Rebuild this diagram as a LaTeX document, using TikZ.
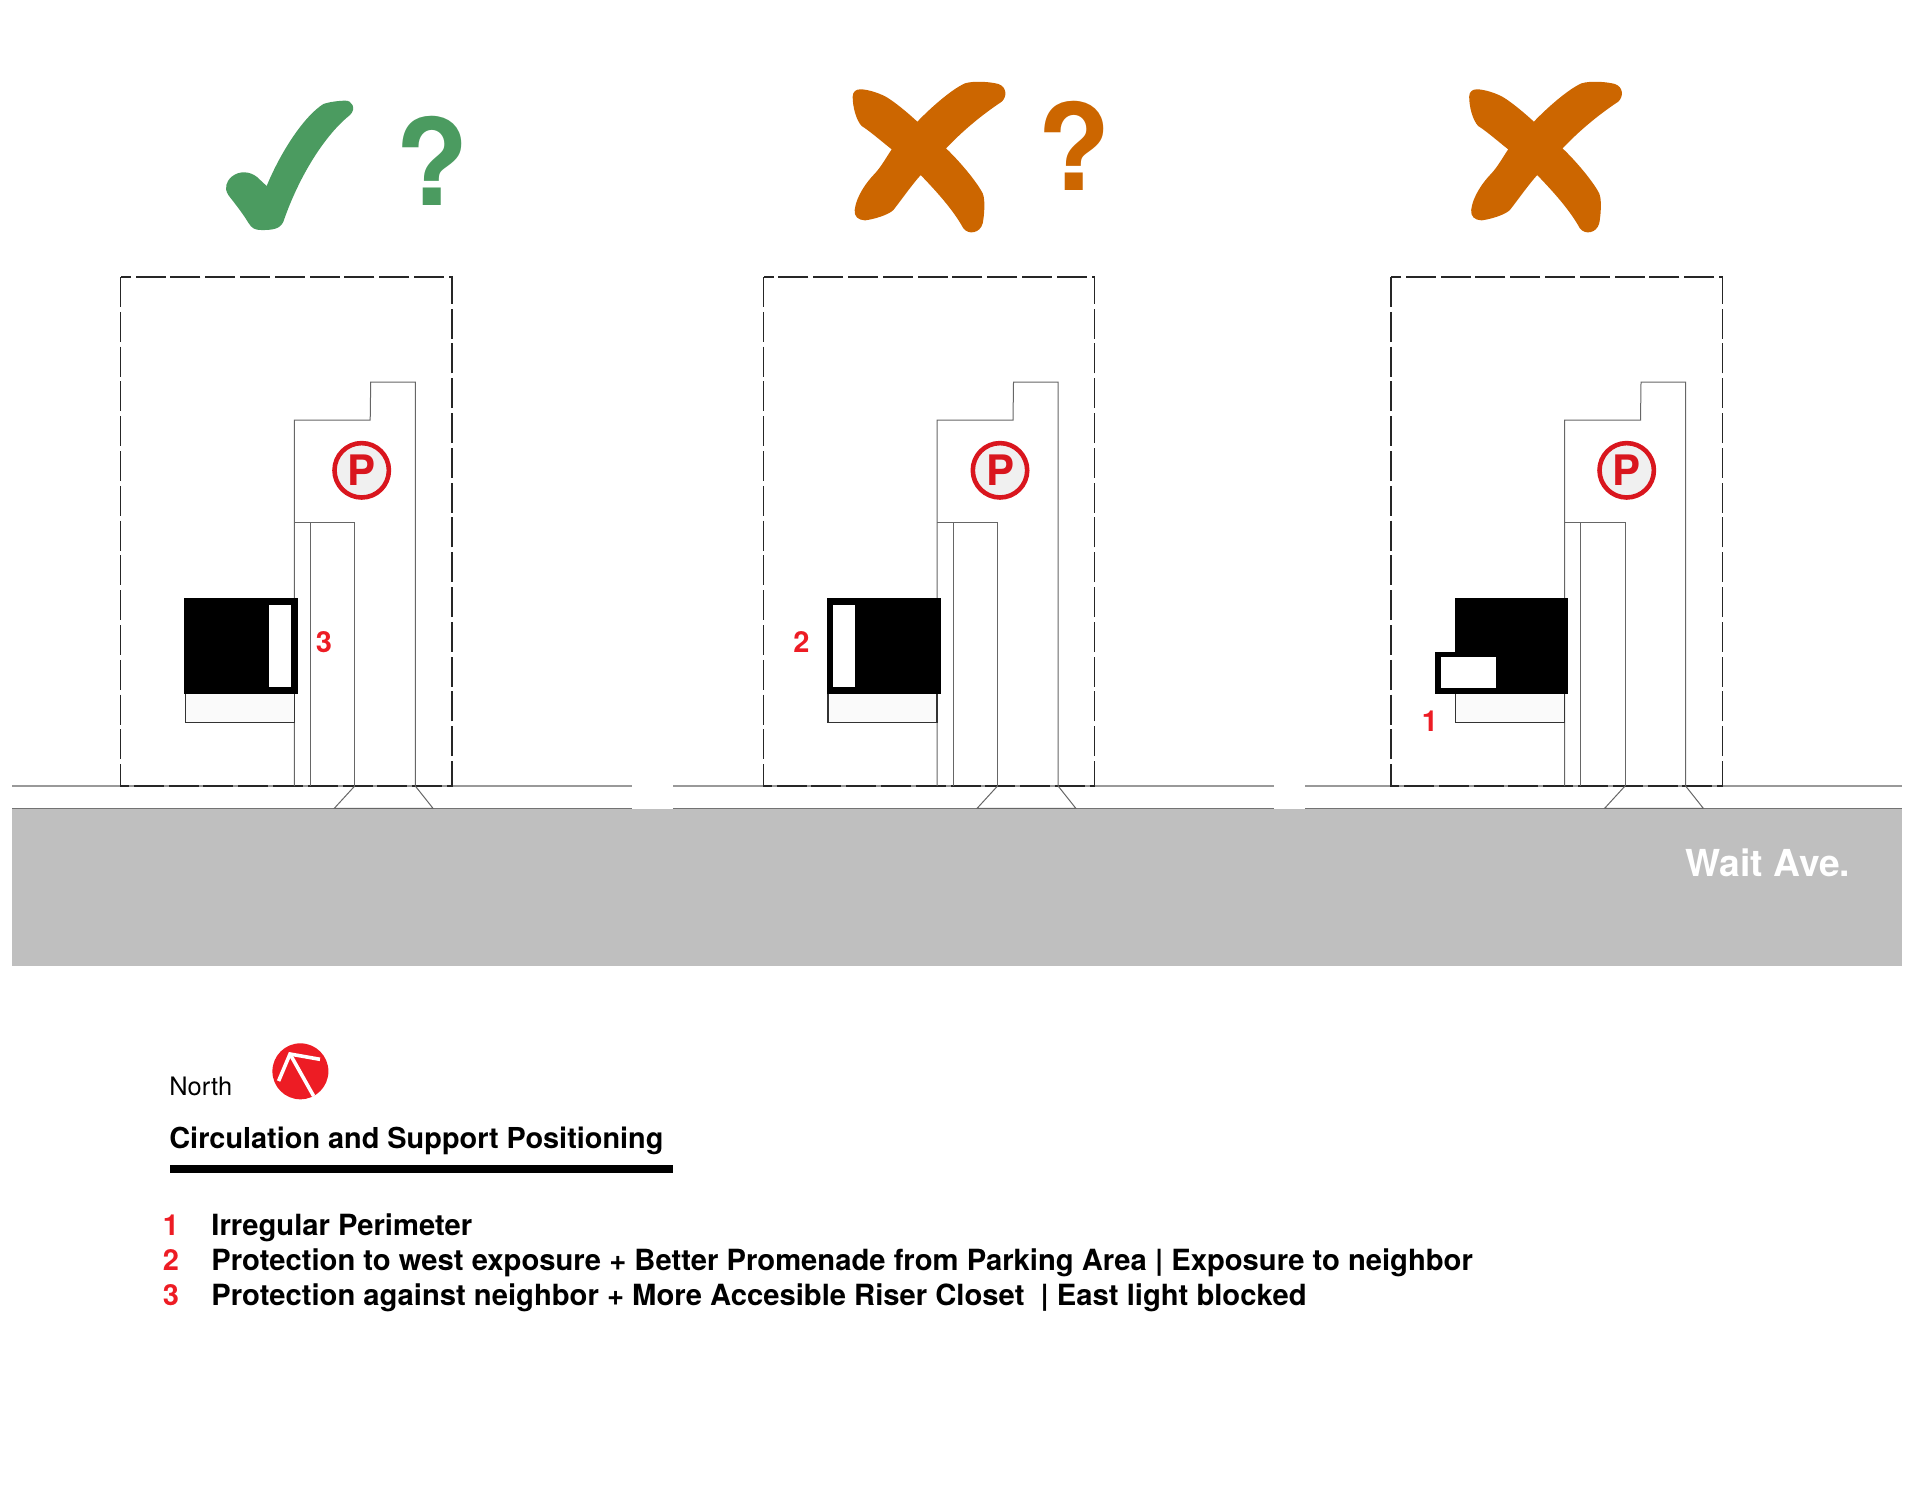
\documentclass[tikz,border=0pt]{standalone}
\usepackage{fontspec}
\setmainfont{TeX Gyre Heros}
\definecolor{okgreen}{HTML}{4B9B60}
\definecolor{badorange}{HTML}{CC6600}
\definecolor{markred}{HTML}{ED1C24}
\definecolor{parkred}{HTML}{D9161E}
\definecolor{roadgray}{HTML}{BFBFBF}
\tikzset{
  siteline/.style={draw=black!85,line width=0.7pt,dash pattern=on 15pt off 2.4pt},
  lotline/.style={draw=black!60,line width=0.5pt},
  streetline/.style={draw=black!40,line width=0.6pt},
  podium/.style={draw=black!80,line width=0.7pt,fill=black!2},
  core/.style={fill=black},
  gapbox/.style={fill=white},
  parkmark/.style={circle,draw=parkred,fill=black!6,line width=2.3pt,inner sep=0pt,minimum size=27.2pt,
    text=parkred,font=\fontsize{21}{21}\selectfont\bfseries},
  tagnum/.style={text=markred,inner sep=0pt,font=\fontsize{14.5}{15}\selectfont\bfseries},
  askmark/.style={inner sep=0pt,font=\fontsize{60}{60}\selectfont\bfseries},
  legendnum/.style={text=markred,inner sep=0pt,anchor=base,font=\fontsize{14.5}{15}\selectfont\bfseries},
  legendtext/.style={inner sep=0pt,anchor=base west,font=\fontsize{14.6}{15}\selectfont\bfseries},
  crossmark/.pic={
    \fill[badorange,x=0.1667pt,y=-0.1667pt]
      (232,185) .. controls (280,135) and (340,85) .. (375,70) .. controls (400,62) and (450,65) .. (475,72)
      .. controls (500,80) and (502,110) .. (485,125) .. controls (440,155) and (380,200) .. (318,265)
      .. controls (360,305) and (410,365) .. (428,400) .. controls (437,420) and (432,470) .. (428,490)
      .. controls (420,520) and (385,525) .. (370,505) .. controls (340,450) and (290,395) .. (242,345)
      .. controls (215,375) and (180,425) .. (160,450) .. controls (145,465) and (100,478) .. (75,481)
      .. controls (55,480) and (42,470) .. (44,450) .. controls (48,410) and (80,365) .. (105,340)
      .. controls (125,318) and (140,290) .. (155,268) .. controls (120,240) and (85,210) .. (65,198)
      .. controls (48,180) and (38,140) .. (38,110) .. controls (38,95) and (48,88) .. (60,88)
      .. controls (80,87) and (125,100) .. (150,118) .. controls (175,135) and (205,160) .. (232,185) -- cycle;
  },
  lot/.pic={
    \draw[siteline] (0,277) rectangle (331.2,786);
    \draw[lotline] (173.6,786) -- (173.6,420) -- (249.5,420) -- (250,382) -- (294.6,382) -- (294.6,786);
    \draw[lotline] (173.6,522) -- (234,522) -- (234,786);
    \draw[lotline] (189.6,522) -- (189.6,786);
    \draw[lotline] (234,786) -- (213.6,808.3) -- (312.3,808.3) -- (294.6,786);
    \draw[podium] (64.6,693.7) rectangle (173.6,722.7);
    \fill[core] (63.6,598.3) rectangle (177,693.7);
  }
}
\begin{document}
\begin{tikzpicture}[x=0.5pt,y=-0.5pt]
\useasboundingbox (0,0) rectangle (1920,1484);

\fill[roadgray] (12,808.3) rectangle (1901.6,966);
\draw[streetline] (12,786) -- (1901.6,786);
\draw[streetline,draw=black!55] (12,808.3) -- (1901.6,808.3);
\foreach \gapx/\gapw in {632/41,1274/31}
    \fill[white] (\gapx,784) rectangle (\gapx+\gapw,809);

\fill[okgreen,shift={(200,70)},x=0.1667pt,y=-0.1667pt]
    (200,348) .. controls (240,250) and (310,140) .. (370,102) .. controls (390,95) and (420,92) .. (435,92)
    .. controls (455,90) and (470,115) .. (450,135) .. controls (380,190) and (300,310) .. (250,455)
    .. controls (240,478) and (215,480) .. (185,480) .. controls (165,480) and (155,475) .. (145,458)
    .. controls (125,425) and (100,395) .. (85,375) .. controls (72,355) and (78,335) .. (95,320)
    .. controls (120,300) and (150,305) .. (170,320) -- cycle;
\node[askmark,text=okgreen] (askA) at (431.7,160.5) {?};
\pic at (840,60) {crossmark};
\node[askmark,text=badorange] (askB) at (1074.5,145.5) {?};
\pic at (1456.5,60) {crossmark};

\foreach \sitex/\parkx/\nm in {120.7/361.7/A,763.5/1000/B,1391/1626.7/C}{
    \pic at (\sitex,0) {lot};
    \node[parkmark] (park\nm) at (\parkx,470.3) {P};
}

\fill[gapbox] (269.3,605) rectangle (291.3,687);
\node[tagnum] (tagA) at (324,642) {3};
\fill[gapbox] (833.2,605) rectangle (855.4,687);
\node[tagnum] (tagB) at (801.3,642) {2};
\fill[core] (1435.3,651.7) rectangle (1456,693.7);
\fill[gapbox] (1440.7,656.7) rectangle (1496.3,687.7);
\node[tagnum] (tagC) at (1430,721.7) {1};

\node[inner sep=0pt,anchor=base east,text=white,font=\fontsize{18.6}{19}\selectfont\bfseries] (street) at (1850.5,876) {Wait Ave.};

\node[inner sep=0pt,anchor=base west,font=\fontsize{12.7}{13}\selectfont] (northlabel) at (169,1095) {North};
\node[circle,fill=markred,inner sep=0pt,minimum size=28pt] (northdisc) at (300.4,1071.3) {};
\draw[white,line width=1.8pt] (313.6,1096) -- (290,1054);
\draw[white,line width=1.8pt] (278.6,1081) -- (290,1054) -- (320,1059.3);

\node[inner sep=0pt,anchor=base west,font=\fontsize{14.43}{16}\selectfont\bfseries] (title) at (169,1148) {Circulation and Support Positioning};
\fill[black] (169.6,1165) rectangle (673,1172.7);

\node[legendnum] (numA) at (171,1235) {1};
\node[legendtext] (lineA) at (211,1235) {Irregular Perimeter};
\node[legendnum] (numB) at (171,1270) {2};
\node[legendtext] (lineB) at (211,1270) {Protection to west exposure + Better Promenade from Parking Area | Exposure to neighbor};
\node[legendnum] (numC) at (171,1305) {3};
\node[legendtext] (lineC) at (211,1305) {Protection against neighbor + More Accesible Riser Closet ~| East light blocked};
\end{tikzpicture}
\end{document}
